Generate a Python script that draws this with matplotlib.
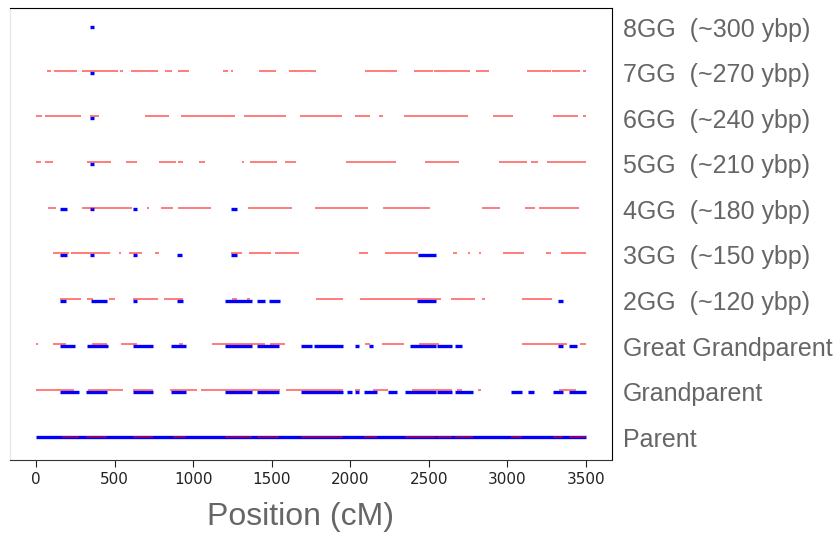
import matplotlib.pyplot as plt

# Row labels, bottom to top
labels = ['Parent', 'Grandparent', 'Great Grandparent',
          '2GG  (~120 ybp)', '3GG  (~150 ybp)', '4GG  (~180 ybp)',
          '5GG  (~210 ybp)', '6GG  (~240 ybp)', '7GG  (~270 ybp)',
          '8GG  (~300 ybp)']

# Segments (start cM, end cM) for each generation
parent_red = [(163, 276), (318, 454), (619, 743), (870, 953), (1203, 1373),
              (1404, 1548), (1684, 1952), (2087, 2168), (2350, 2545),
              (2554, 2645), (2666, 2783), (3021, 3095), (3292, 3356), (3390, 3500)]
parent_blue = [(0, 3500)]

grandparent_red = [(0, 244), (331, 556), (615, 743), (855, 1023), (1048, 1550),
                   (1592, 1956), (2028, 2062), (2144, 2242), (2391, 2645),
                   (2677, 2709), (2815, 2832), (3330, 3436)]
grandparent_blue = [(153, 276), (318, 454), (619, 743), (859, 953), (1203, 1373),
                    (1404, 1548), (1684, 1952), (1981, 2013), (2032, 2055),
                    (2087, 2168), (2242, 2295), (2350, 2545), (2554, 2645),
                    (2666, 2783), (3021, 3095), (3129, 3171), (3292, 3356),
                    (3390, 3500)]

ggp_red = [(0, 15), (106, 191), (356, 450), (539, 641), (910, 937), (1122, 1457),
           (1491, 1582), (2096, 2125), (2202, 2344), (2439, 2567), (3093, 3381),
           (3462, 3500)]
ggp_blue = [(153, 248), (322, 456), (619, 746), (859, 953), (1203, 1373),
            (1404, 1548), (1684, 1754), (1769, 1956), (2032, 2055), (2117, 2147),
            (2380, 2545), (2552, 2647), (2668, 2709), (3320, 3352), (3390, 3441)]

gg2_red = [(153, 284), (327, 361), (467, 503), (615, 778), (815, 937), (1245, 1277),
           (1343, 1360), (1782, 1956), (2062, 2575), (2639, 2794), (2838, 2860),
           (3093, 3284)]
gg2_blue = [(153, 191), (350, 450), (619, 645), (897, 937), (1203, 1373),
            (1404, 1457), (1481, 1553), (2427, 2545), (3320, 3352)]

gg3_red = [(110, 212), (223, 471), (528, 539), (594, 675), (757, 781), (1241, 1311),
           (1357, 1496), (1523, 1674), (2058, 2111), (2221, 2433), (2656, 2677),
           (2747, 2762), (2817, 2832), (2974, 3104), (3244, 3276), (3339, 3500)]
gg3_blue = [(153, 195), (344, 370), (619, 645), (897, 931), (1241, 1279), (2429, 2544)]

gg4_red = [(74, 129), (293, 609), (704, 717), (797, 874), (906, 1116), (1349, 1629),
           (1778, 2111), (2210, 2505), (2840, 2955), (3114, 3173), (3199, 3454)]
gg4_blue = [(153, 195), (344, 370), (619, 645), (1241, 1279)]

gg5_red = [(0, 30), (59, 106), (327, 477), (573, 641), (783, 889), (906, 937),
           (1039, 1075), (1309, 1326), (1362, 1536), (1582, 1652), (1971, 2289),
           (2476, 2692), (2948, 3127), (3150, 3197), (3252, 3500)]
gg5_blue = [(344, 370)]

gg6_red = [(0, 36), (59, 284), (344, 403), (694, 845), (921, 1266), (1326, 1589),
           (1680, 1945), (2032, 2125), (2181, 2210), (2342, 2747), (2910, 3033),
           (3292, 3447), (3479, 3500)]
gg6_blue = [(344, 370)]

gg7_red = [(68, 93), (115, 259), (293, 524), (535, 556), (602, 774), (821, 868),
           (906, 976), (1192, 1224), (1239, 1256), (1419, 1525), (1612, 1782),
           (2096, 2295), (2405, 2525), (2530, 2762), (2800, 2885), (3127, 3280),
           (3285, 3441), (3445, 3462), (3483, 3500)]
gg7_blue = [(344, 370)]

gg8_red = []
gg8_blue = [(345, 370)]

red_rows = [parent_red, grandparent_red, ggp_red, gg2_red, gg3_red,
            gg4_red, gg5_red, gg6_red, gg7_red, gg8_red]
blue_rows = [parent_blue, grandparent_blue, ggp_blue, gg2_blue, gg3_blue,
             gg4_blue, gg5_blue, gg6_blue, gg7_blue, gg8_blue]

fig = plt.figure(figsize=(8.4, 5.37), dpi=100)
ax = fig.add_axes([10 / 840, 77 / 537, 602 / 840, 452 / 537])

for i, (reds, blues) in enumerate(zip(red_rows, blue_rows)):
    off = 0.0 if i == 0 else 0.04
    if blues:
        ax.hlines([i] * len(blues), [s for s, e in blues], [e for s, e in blues],
                  color='blue', lw=2.4, zorder=2)
    if reds:
        ax.hlines([i + off] * len(reds), [s for s, e in reds], [e for s, e in reds],
                  color='red', lw=1.2, alpha=0.6, zorder=3)

ax.set_xlim(-165, 3665)
ax.set_ylim(-0.5, 9.42)

ax.set_xticks(range(0, 3501, 500))
ax.tick_params(axis='x', labelsize=11, colors='#222222', length=5, direction='out')

ax.yaxis.tick_right()
ax.set_yticks(range(len(labels)))
ax.set_yticklabels(labels, family='Liberation Sans', fontsize=18, color='#666666')
ax.tick_params(axis='y', length=0, pad=8)

ax.set_xlabel('Position (cM)', family='Liberation Sans', fontsize=23,
              color='#666666', va='center')
ax.xaxis.set_label_coords(0.482, -0.127)

ax.spines['left'].set_color('#e6e6e6')
ax.spines['bottom'].set_color('#333333')

fig.savefig('out.png', dpi=100)
